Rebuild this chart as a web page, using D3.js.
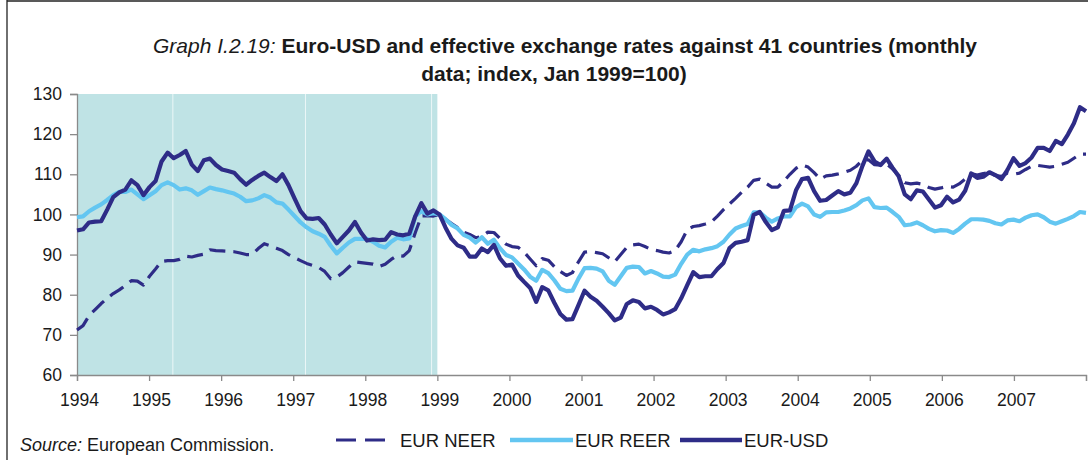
<!DOCTYPE html>
<html><head><meta charset="utf-8">
<script src="https://cdn.jsdelivr.net/npm/d3@7"></script>
<style>
html,body{margin:0;padding:0;background:#fff;}
svg{display:block;font-family:"Liberation Sans",Arial,sans-serif;}
</style></head>
<body><svg id="c" width="1088" height="460"></svg>
<script>
// ---- data (monthly, Jan 1994 - Dec 2007; index Jan 1999 = 100) ----
const years = [1994,1995,1996,1997,1998,1999,2000,2001,2002,2003,2004,2005,2006,2007,2008];
const yTicks = [60,70,80,90,100,110,120,130];
const seriesNames = ["EUR NEER","EUR REER","EUR-USD"];
const eurNeer = [
71.2,72.3,74.8,76.3,77.8,79.1,80.3,81.2,82.3,83.5,83.4,82.4,
84.6,86.4,88.3,88.5,88.5,88.8,89.6,89.4,89.8,90.1,91.2,91.0,
90.9,90.8,90.7,90.4,90.0,90.0,91.5,92.7,92.2,91.6,91.0,90.0,
89.2,88.5,87.8,87.3,86.8,85.8,84.0,84.4,85.5,86.9,88.2,88.0,
87.8,87.6,87.0,87.6,88.8,89.8,89.6,91.0,95.5,99.6,99.7,99.6,
100.0,98.8,97.7,96.7,95.6,95.0,94.2,94.5,95.6,95.5,94.0,92.6,
92.0,91.8,90.6,88.9,87.2,89.0,88.6,87.0,85.8,84.8,85.5,88.2,
90.6,90.8,90.5,90.2,89.2,88.2,90.0,91.8,92.4,92.6,92.0,91.3,
91.0,90.6,90.4,91.0,93.2,96.2,97.0,97.2,97.6,98.1,99.6,101.2,
102.6,104.0,105.5,106.8,108.5,108.8,107.8,106.8,106.8,108.3,110.0,111.5,
112.3,111.8,110.4,108.8,109.6,109.8,110.1,110.5,111.0,112.0,113.5,113.6,
112.4,112.3,112.6,111.3,109.7,107.9,107.6,107.8,107.5,106.7,106.3,106.6,
107.0,106.8,107.6,108.8,110.2,109.8,110.2,110.4,109.7,109.5,110.3,110.0,
110.3,111.2,112.0,112.2,112.0,111.8,112.0,112.5,113.0,114.0,115.0,115.0];
const eurReer = [
99.3,99.5,100.8,101.7,102.5,103.6,104.8,105.6,105.6,106.2,105.0,103.8,
104.8,105.8,107.3,108.0,107.3,106.2,106.5,106.0,104.9,105.8,106.7,106.3,
106.0,105.6,105.2,104.4,103.3,103.5,104.0,104.8,104.2,103.0,102.7,101.2,
99.6,98.0,96.8,95.8,95.2,94.4,92.2,90.3,91.7,93.0,93.9,93.9,
93.9,93.2,92.2,91.8,93.2,94.2,93.8,94.0,99.6,100.8,100.0,100.3,
100.0,98.8,97.4,96.5,94.9,94.2,93.0,94.3,92.7,93.7,91.6,89.9,
89.3,87.8,86.3,84.5,83.5,86.2,85.4,83.6,81.5,80.9,81.0,84.0,
86.6,86.7,86.5,85.8,83.5,82.5,84.6,86.7,87.0,86.9,85.3,85.9,
85.3,84.5,84.4,85.0,87.7,90.0,91.2,90.8,91.3,91.6,92.1,93.2,
95.0,96.5,97.1,97.6,100.5,100.5,99.2,98.2,99.0,99.5,99.5,101.8,
102.7,102.0,100.0,99.4,100.5,100.6,100.6,101.0,101.5,102.3,103.5,104.0,
101.8,101.6,101.7,100.6,99.4,97.3,97.5,98.0,97.3,96.4,95.8,96.1,
96.0,95.4,96.4,97.7,98.8,98.8,98.7,98.4,97.8,97.5,98.5,98.7,
98.3,99.2,99.8,100.0,99.3,98.2,97.7,98.3,98.9,99.6,100.6,100.4];
const eurUsd = [
96.0,96.3,98.0,98.2,98.3,101.2,104.3,105.5,106.2,108.5,107.3,104.8,
106.8,108.3,113.2,115.4,114.0,114.8,115.8,112.4,110.8,113.5,113.9,112.3,
111.2,110.8,110.4,108.8,107.4,108.6,109.6,110.4,109.3,108.3,110.0,107.3,
104.0,100.8,99.0,98.9,99.1,97.5,95.0,92.8,94.4,96.0,98.1,95.5,
93.5,93.8,93.6,93.7,95.6,95.0,94.8,95.2,99.6,102.8,100.2,101.0,
100.0,96.7,93.9,92.3,91.7,89.5,89.5,91.5,90.6,92.4,89.1,87.2,
87.5,84.8,83.2,81.7,78.2,81.9,81.1,78.0,75.2,73.8,73.9,77.4,
81.0,79.5,78.5,77.0,75.4,73.6,74.3,77.7,78.6,78.2,76.6,77.0,
76.2,75.1,75.6,76.4,79.1,82.4,85.6,84.4,84.6,84.6,86.4,87.9,
91.6,92.9,93.2,93.6,99.9,100.6,98.1,96.1,96.8,100.9,101.0,106.0,
108.8,109.1,105.8,103.4,103.6,104.7,105.8,105.0,105.4,107.8,112.1,115.7,
113.2,112.3,113.9,111.6,109.5,105.0,103.8,106.0,105.7,103.7,101.7,102.3,
104.4,103.0,103.7,105.9,110.2,109.1,109.4,110.5,109.8,108.8,111.1,114.0,
112.1,112.8,114.2,116.6,116.6,115.8,118.3,117.5,119.9,122.7,126.7,125.7];
const shadeRange = [1994, 1999];
const shadeSeams = [1995.33, 1997.17, 1998.92];

// ---- layout & style ----
const L = 77, R = 1086, T = 94, B = 375;
const cNavy = "#2E2C87", cLight = "#63C6F1", cShade = "#BFE3E5", cAxis = "#8a8a8a", cText = "#1a1a1a";

const svg = d3.select("#c");
const xYear = d3.scaleLinear().domain([years[0], years[years.length-1]]).range([L, R]);
const xIdx = d3.scaleLinear().domain([0, eurUsd.length - 1]).range([L, R]);
const y = d3.scaleLinear().domain([60, 130]).range([B, T]);

// frame
svg.append("line").attr("x1",7).attr("x2",7).attr("y1",0).attr("y2",460).attr("stroke","#222").attr("stroke-width",1.3);
svg.append("line").attr("x1",7).attr("x2",1088).attr("y1",1).attr("y2",1).attr("stroke","#222").attr("stroke-width",1.3);

// title
const t1 = svg.append("text").attr("x",565).attr("y",53).attr("text-anchor","middle")
  .attr("font-size",21).attr("fill",cText);
t1.append("tspan").attr("font-style","italic").text("Graph I.2.19:");
t1.append("tspan").attr("font-weight","bold").text(" Euro-USD and effective exchange rates against 41 countries (monthly");
svg.append("text").attr("x",554).attr("y",81).attr("text-anchor","middle")
  .attr("font-size",21).attr("font-weight","bold").attr("fill",cText)
  .text("data; index, Jan 1999=100)");

// shaded pre-euro period
svg.append("rect").attr("x",xYear(shadeRange[0])).attr("y",T)
  .attr("width",xYear(shadeRange[1]) - xYear(shadeRange[0])).attr("height",B - T)
  .attr("fill",cShade);
svg.selectAll("line.seam").data(shadeSeams).enter().append("line")
  .attr("x1",d=>xYear(d)).attr("x2",d=>xYear(d)).attr("y1",T).attr("y2",B)
  .attr("stroke","#fff").attr("stroke-opacity",0.7).attr("stroke-width",1);

// axes
const yAx = svg.append("g").attr("transform",`translate(${L},0)`)
  .call(d3.axisLeft(y).tickValues(yTicks).tickSize(7).tickPadding(8).tickFormat(d3.format("d")));
const xAx = svg.append("g").attr("transform",`translate(0,${B})`)
  .call(d3.axisBottom(xYear).tickValues(years).tickSize(6).tickPadding(13)
    .tickFormat(d => d === 2008 ? "" : String(d)));
[yAx,xAx].forEach(g=>{
  g.select(".domain").attr("stroke",cAxis).attr("stroke-width",1.3);
  g.selectAll(".tick line").attr("stroke",cAxis).attr("stroke-width",1.3);
  g.selectAll("text").attr("font-size",17.5).attr("fill",cText)
    .attr("font-family","'Liberation Sans',Arial,sans-serif");
});
xAx.selectAll("text").attr("dx",2);

// lines
const line = d3.line().x((d,i)=>xIdx(i)).y(d=>y(d)).curve(d3.curveLinear);
const specs = [
  {data:eurNeer, color:cNavy, w:3.2, dash:"16,8"},
  {data:eurReer, color:cLight, w:4.2, dash:null},
  {data:eurUsd, color:cNavy, w:4.2, dash:null}
];
specs.forEach(s=>{
  svg.append("path").datum(s.data).attr("d",line).attr("fill","none")
    .attr("stroke",s.color).attr("stroke-width",s.w).attr("stroke-linejoin","round")
    .attr("stroke-dasharray",s.dash);
});

// legend
const legendItems = [
  {name:seriesNames[0], color:cNavy, w:3.2, dash:"20,9", x1:336, x2:386, tx:400},
  {name:seriesNames[1], color:cLight, w:4.5, dash:null, x1:510, x2:573, tx:575},
  {name:seriesNames[2], color:cNavy, w:4.5, dash:null, x1:680, x2:742, tx:744}
];
const lg = svg.append("g");
legendItems.forEach(it=>{
  lg.append("line").attr("x1",it.x1).attr("x2",it.x2).attr("y1",440).attr("y2",440)
    .attr("stroke",it.color).attr("stroke-width",it.w).attr("stroke-dasharray",it.dash);
  lg.append("text").attr("x",it.tx).attr("y",446.5).attr("font-size",18.5).attr("fill",cText).text(it.name);
});

// source
const src = svg.append("text").attr("x",20).attr("y",451).attr("font-size",18).attr("fill",cText);
src.append("tspan").attr("font-style","italic").text("Source:");
src.append("tspan").text(" European Commission.");
</script>
</body></html>
